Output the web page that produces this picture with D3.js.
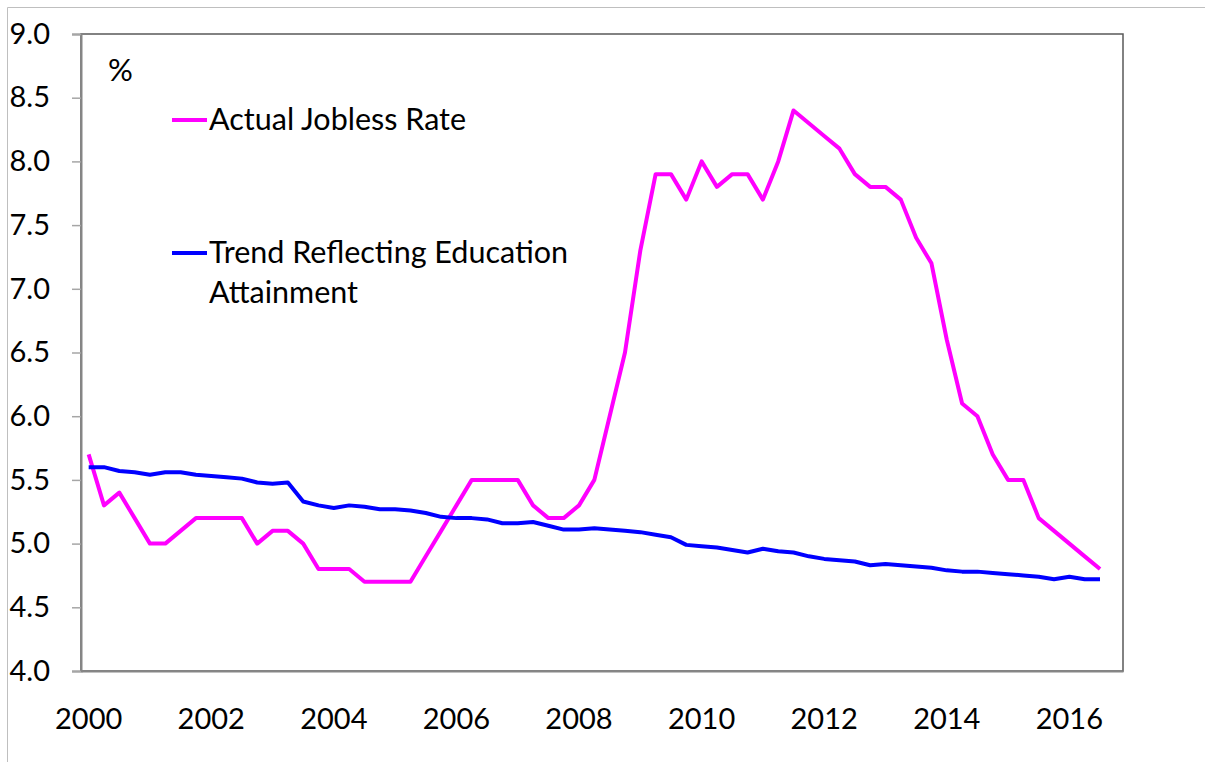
<!DOCTYPE html>
<html>
<head>
<meta charset="utf-8">
<script src="https://cdn.jsdelivr.net/npm/d3@7"></script>
<style>
  body { margin: 0; background: #fff; }
  text { font-family: Lato, "Open Sans", sans-serif; fill: #000; }
</style>
</head>
<body>
<script>
// Quarterly data, 2000Q1 .. 2016Q3 (axis runs through 2016Q4)
var years = d3.range(2000, 2017);
var quarters = [];
years.forEach(function(y) {
  [1, 2, 3, 4].forEach(function(q) { quarters.push(y + "Q" + q); });
});

var jobless = [5.7, 5.3, 5.4, 5.2, 5.0, 5.0, 5.1, 5.2,
  5.2, 5.2, 5.2, 5.0, 5.1, 5.1, 5.0, 4.8,
  4.8, 4.8, 4.7, 4.7, 4.7, 4.7, 4.9, 5.1,
  5.3, 5.5, 5.5, 5.5, 5.5, 5.3, 5.2, 5.2,
  5.3, 5.5, 6.0, 6.5, 7.3, 7.9, 7.9, 7.7,
  8.0, 7.8, 7.9, 7.9, 7.7, 8.0, 8.4, 8.3,
  8.2, 8.1, 7.9, 7.8, 7.8, 7.7, 7.4, 7.2,
  6.6, 6.1, 6.0, 5.7, 5.5, 5.5, 5.2, 5.1,
  5.0, 4.9, 4.8];

var trend = [5.60, 5.60, 5.57, 5.56, 5.54, 5.56, 5.56, 5.54,
  5.53, 5.52, 5.51, 5.48, 5.47, 5.48, 5.33, 5.30,
  5.28, 5.30, 5.29, 5.27, 5.27, 5.26, 5.24, 5.21,
  5.20, 5.20, 5.19, 5.16, 5.16, 5.17, 5.14, 5.11,
  5.11, 5.12, 5.11, 5.10, 5.09, 5.07, 5.05, 4.99,
  4.98, 4.97, 4.95, 4.93, 4.96, 4.94, 4.93, 4.90,
  4.88, 4.87, 4.86, 4.83, 4.84, 4.83, 4.82, 4.81,
  4.79, 4.78, 4.78, 4.77, 4.76, 4.75, 4.74, 4.72,
  4.74, 4.72, 4.72];

var yTicks = [4.0, 4.5, 5.0, 5.5, 6.0, 6.5, 7.0, 7.5, 8.0, 8.5, 9.0];
var xTickLabels = ["2000", "2002", "2004", "2006", "2008", "2010", "2012", "2014", "2016"];

var seriesNames = ["Actual Jobless Rate", "Trend Reflecting Education Attainment"];
var seriesColors = ["#ff00ff", "#0000ff"];

var w = 1205, h = 762;
var plotLeft = 81, plotRight = 1123, plotTop = 34, plotBottom = 671;

var svg = d3.select("body").append("svg")
  .attr("width", w)
  .attr("height", h);

// outer chart frame (only left and top edges show)
svg.append("line").attr("x1", 7.5).attr("y1", 7.5).attr("x2", w).attr("y2", 7.5)
  .attr("stroke", "#bfbfbf").attr("stroke-width", 1);
svg.append("line").attr("x1", 7.5).attr("y1", 7.5).attr("x2", 7.5).attr("y2", h)
  .attr("stroke", "#bfbfbf").attr("stroke-width", 1);

var xScale = d3.scaleBand()
  .domain(quarters)
  .range([plotLeft, plotRight])
  .padding(0);

var yScale = d3.scaleLinear()
  .domain([4, 9])
  .range([plotBottom, plotTop]);

function xPos(i) {
  return xScale(quarters[i]) + xScale.bandwidth() / 2;
}

// plot area border
svg.append("rect")
  .attr("x", plotLeft).attr("y", plotTop)
  .attr("width", plotRight - plotLeft).attr("height", plotBottom - plotTop)
  .attr("fill", "none")
  .attr("stroke", "#595959")
  .attr("stroke-width", 1.5);

// y axis
var yAxis = svg.append("g")
  .attr("class", "y axis")
  .attr("transform", "translate(" + plotLeft + ",0)")
  .call(d3.axisLeft(yScale).tickValues(yTicks).tickFormat(d3.format(".1f"))
    .tickSize(9).tickPadding(6));
yAxis.select(".domain").attr("stroke", "#868686").attr("stroke-width", 2);
yAxis.selectAll(".tick line").attr("stroke", "#a6a6a6").attr("stroke-width", 1.5);
yAxis.selectAll(".tick text")
  .attr("x", -31)
  .style("font-family", "Lato, sans-serif")
  .style("font-size", "29px")
  .attr("text-anchor", "end");

// x axis: labels at Q1 of every other year, no tick marks
var xAxis = svg.append("g")
  .attr("class", "x axis")
  .attr("transform", "translate(0," + plotBottom + ")")
  .call(d3.axisBottom(xScale)
    .tickValues(xTickLabels.map(function(y) { return y + "Q1"; }))
    .tickFormat(function(d) { return d.slice(0, 4); })
    .tickSize(0).tickPadding(0));
xAxis.select(".domain").attr("stroke", "#868686").attr("stroke-width", 2);
xAxis.selectAll(".tick").attr("transform", function(d) {
  return "translate(" + (xScale(d) + xScale.bandwidth() / 2) + ",0)";
});
xAxis.selectAll(".tick text")
  .attr("y", 0)
  .attr("dy", "2.0em")
  .style("font-family", "Lato, sans-serif")
  .style("font-size", "29px");

// lines
var line = d3.line()
  .x(function(d, i) { return xPos(i); })
  .y(function(d) { return yScale(d); });

[jobless, trend].forEach(function(s, k) {
  svg.append("path")
    .datum(s)
    .attr("fill", "none")
    .attr("stroke", seriesColors[k])
    .attr("stroke-width", 4)
    .attr("stroke-linejoin", "round")
    .attr("d", line);
});

// "%" unit label
svg.append("text")
  .attr("x", 108).attr("y", 81)
  .style("font-family", "Lato, sans-serif")
  .style("font-size", "31px")
  .text("%");

// legend
var legendItems = [
  { name: seriesNames[0], color: seriesColors[0], y: 120, lines: ["Actual Jobless Rate"] },
  { name: seriesNames[1], color: seriesColors[1], y: 253, lines: ["Trend Reflecting Education", "Attainment"] }
];

var legend = svg.selectAll(".legend")
  .data(legendItems)
  .enter()
  .append("g")
  .attr("class", "legend");

legend.append("line")
  .attr("x1", 172).attr("x2", 207)
  .attr("y1", function(d) { return d.y; })
  .attr("y2", function(d) { return d.y; })
  .attr("stroke", function(d) { return d.color; })
  .attr("stroke-width", 4);

legend.each(function(d) {
  var t = d3.select(this).append("text")
    .attr("x", 209)
    .attr("y", d.y + 10)
    .style("font-family", "Lato, sans-serif")
    .style("font-size", "30.5px");
  d.lines.forEach(function(l, i) {
    t.append("tspan").attr("x", 209).attr("dy", i === 0 ? 0 : 40).text(l);
  });
});
</script>
</body>
</html>
